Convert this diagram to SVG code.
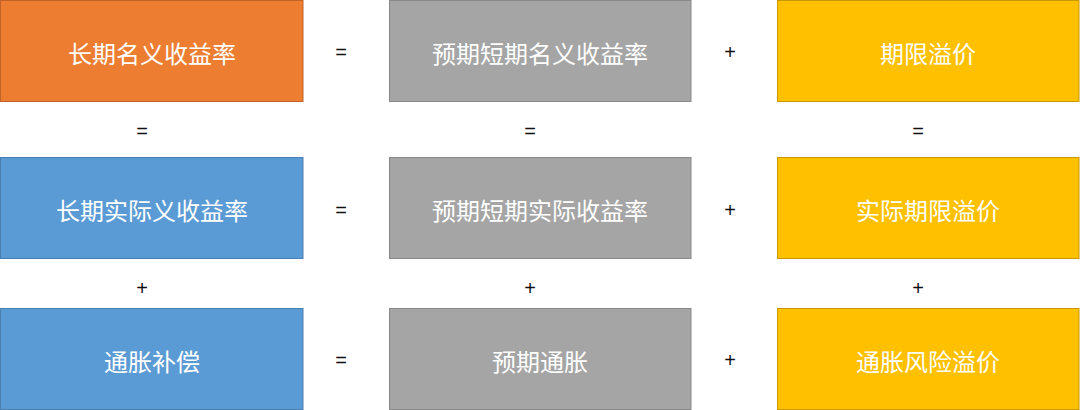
<svg xmlns="http://www.w3.org/2000/svg" width="1080" height="410" viewBox="0 0 1080 410">
<style>
.o{fill:#ED7D31;stroke:#C0632A;stroke-width:1}
.b{fill:#5B9BD5;stroke:#4A7FB0;stroke-width:1}
.g{fill:#A5A5A5;stroke:#888888;stroke-width:1}
.y{fill:#FFC000;stroke:#C89A00;stroke-width:1}
.t{fill:#FFFFFF;font-family:"Noto Sans CJK SC","Noto Sans",sans-serif;font-size:24px;text-anchor:middle;dominant-baseline:central}
.op{fill:#111111;font-family:"Liberation Sans",Arial,sans-serif;font-size:20px;text-anchor:middle;dominant-baseline:central}
</style>
<rect width="1080" height="410" fill="#FFFFFF"/>
<g id="n11"><rect class="o" x="0.5" y="0.5" width="302.5" height="101"/><text class="t" x="152" y="52">长期名义收益率</text></g>
<g id="n12"><rect class="g" x="389.5" y="0.5" width="301.5" height="101"/><text class="t" x="540" y="52">预期短期名义收益率</text></g>
<g id="n13"><rect class="y" x="777.5" y="0.5" width="301.5" height="101"/><text class="t" x="928" y="52">期限溢价</text></g>
<g id="n21"><rect class="b" x="0.5" y="157.5" width="302.5" height="101"/><text class="t" x="152" y="209">长期实际义收益率</text></g>
<g id="n22"><rect class="g" x="389.5" y="157.5" width="301.5" height="101"/><text class="t" x="540" y="209">预期短期实际收益率</text></g>
<g id="n23"><rect class="y" x="777.5" y="157.5" width="301.5" height="101"/><text class="t" x="928" y="209">实际期限溢价</text></g>
<g id="n31"><rect class="b" x="0.5" y="308.5" width="302.5" height="101"/><text class="t" x="152" y="360">通胀补偿</text></g>
<g id="n32"><rect class="g" x="389.5" y="308.5" width="301.5" height="101"/><text class="t" x="540" y="360">预期通胀</text></g>
<g id="n33"><rect class="y" x="777.5" y="308.5" width="301.5" height="101"/><text class="t" x="928" y="360">通胀风险溢价</text></g>
<g id="connectors">
<text class="op" x="341" y="52">=</text>
<text class="op" x="730" y="52">+</text>
<text class="op" x="341" y="210">=</text>
<text class="op" x="730" y="210">+</text>
<text class="op" x="341" y="360">=</text>
<text class="op" x="730" y="360">+</text>
<text class="op" x="142" y="131">=</text>
<text class="op" x="530" y="131">=</text>
<text class="op" x="918" y="131">=</text>
<text class="op" x="142" y="288">+</text>
<text class="op" x="530" y="288">+</text>
<text class="op" x="918" y="288">+</text>
</g>
</svg>
